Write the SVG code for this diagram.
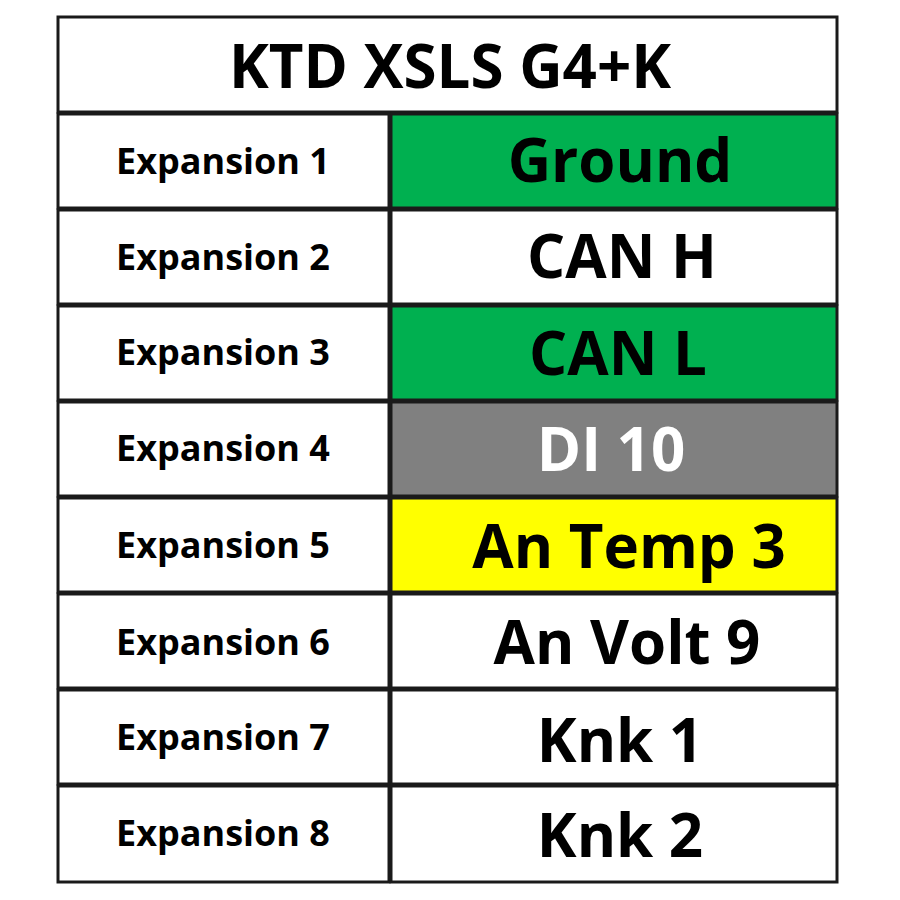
<svg xmlns="http://www.w3.org/2000/svg" width="900" height="900" viewBox="0 0 900 900">
<style>
.c{stroke:#1a1a1a;stroke-width:3}
.l{font-family:"Open Sans","Liberation Sans",sans-serif;font-weight:bold;font-size:36px;text-anchor:middle;fill:#000}
.r{font-family:"Open Sans","Liberation Sans",sans-serif;font-weight:bold;font-size:60px;text-anchor:middle;fill:#000}
</style>
<rect width="900" height="900" fill="#fff"/>
<g id="title"><rect class="c" x="58" y="17" width="779" height="95" fill="#fff"/><text x="450" y="88" font-family="Open Sans,Liberation Sans,sans-serif" font-weight="bold" font-size="60" text-anchor="middle">KTD XSLS G4+K</text></g>
<g id="row1"><rect class="c" x="58" y="114" width="331" height="94" fill="#fff"/><text class="l" x="223" y="174">Expansion 1</text><rect class="c" x="391" y="114" width="446" height="94" fill="#00b050"/><text class="r" x="620" y="182">Ground</text></g>
<g id="row2"><rect class="c" x="58" y="210" width="331" height="94" fill="#fff"/><text class="l" x="223" y="270">Expansion 2</text><rect class="c" x="391" y="210" width="446" height="94" fill="#fff"/><text class="r" x="622" y="278">CAN H</text></g>
<g id="row3"><rect class="c" x="58" y="306" width="331" height="94" fill="#fff"/><text class="l" x="223" y="365">Expansion 3</text><rect class="c" x="391" y="306" width="446" height="94" fill="#00b050"/><text class="r" x="618" y="375">CAN L</text></g>
<g id="row4"><rect class="c" x="58" y="402" width="331" height="94" fill="#fff"/><text class="l" x="223" y="461">Expansion 4</text><rect class="c" x="391" y="402" width="446" height="94" fill="#808080"/><text class="r" x="611" y="471" fill="#fff" style="fill:#fff">DI 10</text></g>
<g id="row5"><rect class="c" x="58" y="498" width="331" height="94" fill="#fff"/><text class="l" x="223" y="558">Expansion 5</text><rect class="c" x="391" y="498" width="446" height="94" fill="#ffff00"/><text class="r" x="629" y="568">An Temp 3</text></g>
<g id="row6"><rect class="c" x="58" y="594" width="331" height="94" fill="#fff"/><text class="l" x="223" y="655">Expansion 6</text><rect class="c" x="391" y="594" width="446" height="94" fill="#fff"/><text class="r" x="627" y="664">An Volt 9</text></g>
<g id="row7"><rect class="c" x="58" y="690" width="331" height="94" fill="#fff"/><text class="l" x="223" y="750">Expansion 7</text><rect class="c" x="391" y="690" width="446" height="94" fill="#fff"/><text class="r" x="620" y="762">Knk 1</text></g>
<g id="row8"><rect class="c" x="58" y="786" width="331" height="96" fill="#fff"/><text class="l" x="223" y="846">Expansion 8</text><rect class="c" x="391" y="786" width="446" height="96" fill="#fff"/><text class="r" x="620" y="857">Knk 2</text></g>
</svg>
